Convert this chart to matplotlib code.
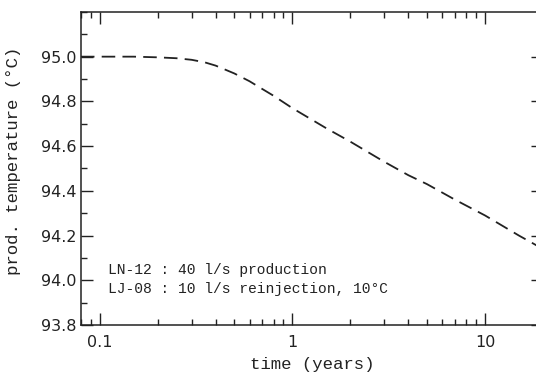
import numpy as np
import matplotlib
matplotlib.use("Agg")
import matplotlib.pyplot as plt
from matplotlib.ticker import FixedLocator, FixedFormatter, MultipleLocator, LogLocator, NullFormatter

# production temperature vs time (years)
time_years = [0.08, 0.1, 0.15, 0.2, 0.25, 0.3, 0.35, 0.4, 0.5, 0.6, 0.7, 0.8,
              1.0, 1.5, 2.0, 3.0, 4.0, 5.0, 7.0, 10.0, 15.0, 20.0]
prod_temp = [95.0, 95.0, 95.0, 94.997, 94.993, 94.986, 94.975, 94.96, 94.925,
             94.89, 94.855, 94.825, 94.77, 94.68, 94.62, 94.53, 94.47, 94.43,
             94.36, 94.29, 94.20, 94.14]

xticks = [0.1, 1, 10]
xticklabels = ["0.1", "1", "10"]
yticks = [93.8, 94.0, 94.2, 94.4, 94.6, 94.8, 95.0]
yticklabels = ["93.8", "94.0", "94.2", "94.4", "94.6", "94.8", "95.0"]

note_lines = ["LN-12 : 40 l/s production",
              "LJ-08 : 10 l/s reinjection, 10\u00b0C"]

mono = "Liberation Mono"
ink = "#222222"

fig = plt.figure(figsize=(5.36, 3.73), dpi=100)
ax = fig.add_axes([0.151, 0.1287, 0.862, 0.8393])

ax.plot(time_years, prod_temp, color=ink, lw=1.3, linestyle=(0, (7.5, 4)))

ax.set_xscale("log")
ax.set_xlim(0.08, 20)
ax.set_ylim(93.8, 95.2)

ax.xaxis.set_major_locator(FixedLocator(xticks))
ax.xaxis.set_major_formatter(FixedFormatter(xticklabels))
ax.xaxis.set_minor_locator(LogLocator(base=10, subs=np.arange(2, 10)))
ax.xaxis.set_minor_formatter(NullFormatter())
ax.yaxis.set_major_locator(FixedLocator(yticks))
ax.yaxis.set_major_formatter(FixedFormatter(yticklabels))
ax.yaxis.set_minor_locator(MultipleLocator(0.1))

ax.tick_params(which="both", direction="in", top=True, right=True,
               width=1.0, color=ink)
ax.tick_params(which="major", length=8.5, labelsize=11.5, labelcolor=ink)
ax.tick_params(axis="x", which="major", pad=7)
ax.tick_params(axis="y", which="major", pad=3)
ax.tick_params(which="minor", length=4.5)

for sp in ax.spines.values():
    sp.set_linewidth(1.1)
    sp.set_color(ink)

ax.set_xlabel("time (years)", fontfamily=mono, fontsize=12.5, labelpad=5, color=ink)
ax.set_ylabel("prod. temperature (\u00b0C)", fontfamily=mono, fontsize=12.5,
              color=ink)
ax.yaxis.set_label_coords(-0.13, 0.525)

ax.text(0.11, 94.044, note_lines[0], fontfamily=mono, fontsize=10.5, color=ink,
        va="center")
ax.text(0.11, 93.963, note_lines[1], fontfamily=mono, fontsize=10.5, color=ink,
        va="center")

fig.savefig("out.png", dpi=100)
